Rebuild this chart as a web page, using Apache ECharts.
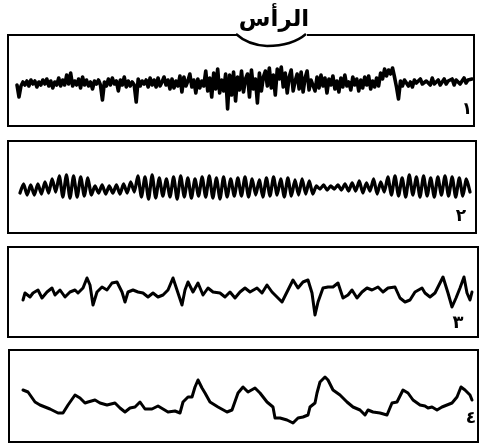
<!DOCTYPE html>
<html>
<head>
<meta charset="utf-8">
<script src="https://cdn.jsdelivr.net/npm/echarts@6/dist/echarts.min.js"></script>
<style>
html,body{margin:0;padding:0;background:#fff;}
#chart{width:480px;height:446px;}
</style>
</head>
<body>
<div id="chart"></div>
<script>
// ---- text ----
const headLabel = 'الرأس';
const panelLabels = ['١', '٢', '٣', '٤'];

// ---- panel 1: fast, low-amplitude noisy trace (evenly sampled) ----
const wave1 = [
  -2, -14, -3, 1, -2, 2, -3, 3, -1, 2, -4, 1, -2, 3, -1, 4, -3, 2, -5, 1, -2, 5, -3,
  3, -2, 8, -1, 10, -3, 2, -2, 4, -5, 6, -2, 3, -3, 1, -6, 2, -1, 3, -2,
  -17, 1, -3, 4, -2, 5, -1, 2, -8, 3, -2, 6, -4, 2, -3, 1, -2, -19, 4, -3, 2, -1, 3, -4, 5, -2,
  3, -4, 5, -3, 1, 6, -2, 3, -6, 4, -5, 2, -3, 7, -9, 6, -3, 2, 9, -4, 3, -10, 4, -5, 2, -3,
  12, -8, 5, -14, 10, -6, 14, -10, 3, -8, 9, -26, 8, -12, 11, -18, 6, -7, 12, -9, 4,
  9, -14, 13, -6, 4, -20, 10, -8, 6, 12, -3, 15, -5, 8, -12, 14, 4, 16, -4, 10, -10, 6, 13, -8, 2, 9, -6, 11, -9, 5, 12, -7, 3,
  3, -8, 6, -5, 8, -3, 5, -10, 4, -2, 7, -6, 2, -9, 5, -4, 8, -3, 1, -7, 6, -2, 4, -8, 3, -5, 6, -2, 7, -6, 2, -4, 5, -3, 10, 4, 14, 7, 13, 9, 15, 6, -4, -16, 2, -3, 3,
  2, -3, 1, -4, 3, 0, -2, 4, -1, -3, 2, 1, -2, 5, -1, 0, 3, -2, 1, 4, -1, 2, 0, 4, -2, 3, 1, -1, 2, 5, 0, 3, 1, 4
];

// ---- panel 2: regular alpha-like rhythm (evenly sampled, peaks/troughs) ----
const wave2 = [
  -4, 5, -6, 4, -6, 5, -5,
  7, -4, 10, -3,
  13, -8, 14, -9, 13, -8, 12, -7, 11, -6,
  3, -4, 4, -5, 3, -4, 4, -5, 5, -4, 7, -3,
  13, -8, 12, -10, 14, -9, 11, -7, 10, -8, 12, -10, 13, -8, 11, -9, 10, -7, 12, -8, 13, -9, 11, -10, 12, -8, 10, -7,
  11, -7, 12, -8, 10, -6, 9, -8, 11, -7, 12, -6, 10, -8, 11, -7, 9, -6, 10, -5, 8, -5,
  3, 0, 4, -1, 3, 0, 4, -1, 5, -2, 6, -2,
  8, -4, 6, -2, 10, -5, 7, -3, 12, -6,
  13, -7, 11, -8, 14, -6, 12, -8, 13, -7, 11, -8, 12, -6, 13, -7, 12, -8, 11, -7, 10, -3
];

// ---- panel 3: theta-like irregular trace ----
const time3 = [23,25,30,33,38,42,47,52,55,60,65,70,75,78,83,87,90,93,97,102,107,112,117,122,125,128,133,138,143,148,153,158,163,168,173,177,182,185,188,193,198,203,208,213,220,225,230,235,240,245,250,257,262,267,272,277,282,287,293,298,303,308,312,315,318,323,328,333,338,343,348,352,357,362,367,372,378,383,388,395,400,405,410,415,422,425,430,435,443,448,452,456,460,464,467,470,472];
const wave3 = [-8,-1,-5,-1,2,-6,0,4,-3,2,-5,0,2,-1,4,14,7,-13,0,5,2,9,10,0,-10,0,2,0,-1,-5,-1,-5,-3,2,14,2,-13,2,10,0,9,-3,4,0,-1,-5,0,-6,0,4,0,4,-1,7,0,-5,-10,0,12,4,10,12,-1,-23,-10,4,5,5,9,-6,-3,2,-6,0,4,2,5,0,4,5,-6,-10,-8,0,4,-1,-5,-1,15,-1,-15,-6,4,15,-1,-8,0];

// ---- panel 4: slow delta-like trace ----
const time4 = [23,28,35,40,50,58,63,68,75,80,85,88,95,100,107,115,120,125,130,135,140,145,152,158,163,168,175,180,183,188,192,195,198,202,205,210,218,227,232,238,243,248,255,260,267,273,275,280,287,293,298,303,308,310,315,317,320,325,328,333,340,347,353,360,365,368,373,380,387,392,397,403,408,413,420,425,428,432,437,442,447,452,457,461,465,470,472];
const wave4 = [6,4,-6,-9,-13,-17,-17,-9,1,-2,-7,-6,-4,-7,-9,-7,-12,-16,-12,-11,-6,-13,-13,-10,-13,-16,-15,-17,-6,-1,-1,9,16,8,3,-6,-11,-16,-14,3,9,4,8,3,-6,-11,-22,-22,-24,-27,-22,-21,-19,-11,-7,3,14,19,16,6,1,-6,-11,-14,-19,-14,-16,-17,-19,-7,-6,6,3,-4,-9,-10,-12,-11,-14,-11,-9,-7,-1,9,6,1,-4];

// ---- layout (styles only) ----
const boxes = [
  {left: 8, top: 35, width: 466, height: 91, half: [-43, 48]},
  {left: 8, top: 141, width: 468, height: 92, half: [-44, 48]},
  {left: 8, top: 247, width: 470, height: 90, half: [-45, 45]},
  {left: 9, top: 350, width: 469, height: 92, half: [-46, 46]}
];
const span1 = [17, 472], span2 = [20, 470];

function idxAxis(n, span, box) {
  const s = (span[1] - span[0]) / (n - 1);
  return {
    min: -(span[0] - box.left) / s,
    max: (n - 1) + (box.left + box.width - span[1]) / s
  };
}

const ax1 = idxAxis(wave1.length, span1, boxes[0]);
const ax2 = idxAxis(wave2.length, span2, boxes[1]);

const chart = echarts.init(document.getElementById('chart'), null, {renderer: 'canvas'});

const lineStyle = {color: '#000', width: 3, join: 'round', cap: 'round'};
const txt = (t, x, y, size) => ({
  type: 'text', z: 101, x, y,
  style: {text: t, font: 'bold ' + size + 'px "DejaVu Sans"', fill: '#000', align: 'center', verticalAlign: 'middle'}
});

const option = {
  backgroundColor: '#fff',
  animation: false,
  grid: boxes.map(b => ({
    left: b.left, top: b.top, width: b.width, height: b.height,
    show: true, borderColor: '#000', borderWidth: 2, backgroundColor: 'transparent'
  })),
  xAxis: [
    {type: 'value', gridIndex: 0, min: ax1.min, max: ax1.max, show: false},
    {type: 'value', gridIndex: 1, min: ax2.min, max: ax2.max, show: false},
    {type: 'value', gridIndex: 2, min: boxes[2].left, max: boxes[2].left + boxes[2].width, show: false},
    {type: 'value', gridIndex: 3, min: boxes[3].left, max: boxes[3].left + boxes[3].width, show: false}
  ],
  yAxis: boxes.map((b, i) => ({type: 'value', gridIndex: i, min: b.half[0], max: b.half[1], show: false})),
  series: [
    {type: 'line', xAxisIndex: 0, yAxisIndex: 0, symbol: 'none', lineStyle: Object.assign({}, lineStyle, {width: 3.6}),
      data: wave1.map((v, i) => [i, v])},
    {type: 'line', xAxisIndex: 1, yAxisIndex: 1, symbol: 'none', lineStyle: Object.assign({}, lineStyle, {width: 3.3}), smooth: 0.2,
      data: wave2.map((v, i) => [i, v])},
    {type: 'line', xAxisIndex: 2, yAxisIndex: 2, symbol: 'none', lineStyle,
      data: wave3.map((v, i) => [time3[i], v])},
    {type: 'line', xAxisIndex: 3, yAxisIndex: 3, symbol: 'none', lineStyle,
      data: wave4.map((v, i) => [time4[i], v])}
  ],
  graphic: [
    {type: 'rect', z: 100, shape: {x: 237, y: 31, width: 70, height: 7}, style: {fill: '#fff'}},
    {type: 'bezierCurve', z: 101, shape: {x1: 236, y1: 34, cpx1: 248, cpy1: 45, x2: 267, y2: 46},
      style: {fill: null, stroke: '#000', lineWidth: 2.4}},
    {type: 'bezierCurve', z: 101, shape: {x1: 267, y1: 46, cpx1: 292, cpy1: 46, x2: 306, y2: 34},
      style: {fill: null, stroke: '#000', lineWidth: 2.4}},
    txt(headLabel, 274, 20, 23),
    txt(panelLabels[0], 467, 110, 17),
    txt(panelLabels[1], 461, 217, 17),
    txt(panelLabels[2], 458, 323, 18),
    txt(panelLabels[3], 471, 419, 17)
  ]
};
chart.setOption(option);
</script>
</body>
</html>
